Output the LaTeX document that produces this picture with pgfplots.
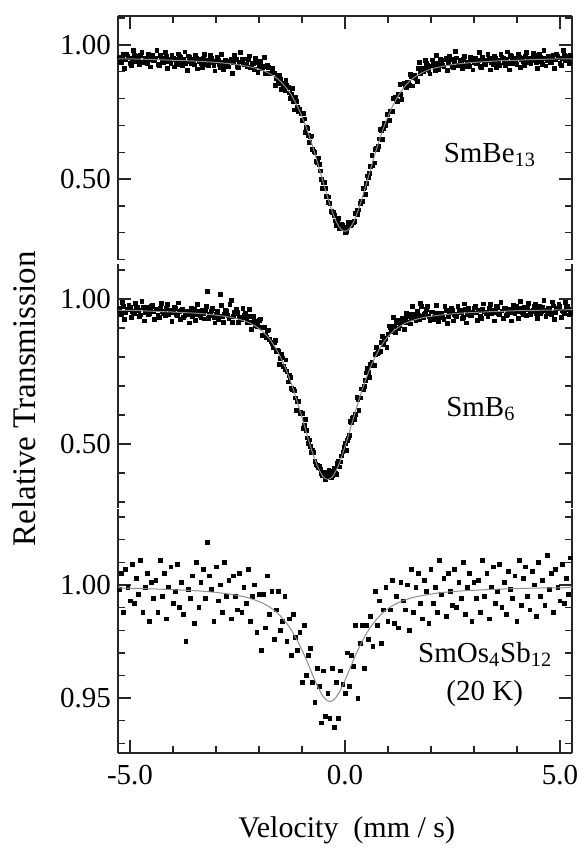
\documentclass[border=0pt]{standalone}
\usepackage{fontspec}
\setmainfont{Liberation Serif}
\usepackage{pgfplots}
\pgfplotsset{compat=1.18}
\pgfplotsset{
  every non boxed x axis/.style={},
  every non boxed y axis/.style={},
  panel/.style={
    scale only axis, width=227pt, height=122pt,
    xmin=-5.28, xmax=5.28,
    axis y line=box,
    clip mode=individual,
    axis line style={black!85, line width=0.7pt, -},
    every tick/.style={black!85, line width=0.7pt},
    tick align=inside,
    major tick length=6.5pt, minor tick length=3.5pt,
    xtick={-5,0,5}, minor xtick={-4,-3,-2,-1,1,2,3,4},
    yticklabel pos=left,
    tick label style={font=\fontsize{14.5}{16}\selectfont, black},
  },
  data/.style={only marks, mark=square*, mark size=0.95pt, black},
  fitl/.style={no marks, black!45, line width=0.5pt},
}
\begin{document}
\begin{tikzpicture}
\useasboundingbox (-59pt,8pt) rectangle (232pt,-416pt);
% ---------------- top panel: SmBe13
\begin{axis}[panel, at={(0pt,0pt)}, anchor=north west,
  axis x line=top, xticklabels={},
  ymin=0.198, ymax=1.108,
  ytick={0.5,1.0}, yticklabels={0.50,1.00},
  minor ytick={0.2,0.3,0.4,0.6,0.7,0.8,0.9,1.1}]
\addplot[data] coordinates {
(-5.25,0.953) (-5.20,0.935) (-5.15,0.964) (-5.10,0.944) (-5.05,0.957) (-5.00,0.932) (-4.95,0.950) (-4.90,0.961) (-4.85,0.940) (-4.80,0.945)
(-4.75,0.961) (-4.70,0.936) (-4.65,0.951) (-4.60,0.932) (-4.55,0.957) (-4.50,0.946) (-4.45,0.941) (-4.40,0.952) (-4.35,0.927) (-4.30,0.961)
(-4.25,0.935) (-4.20,0.949) (-4.15,0.957) (-4.10,0.940) (-4.05,0.930) (-4.00,0.952) (-3.95,0.945) (-3.90,0.927) (-3.85,0.956) (-3.80,0.937)
(-3.75,0.946) (-3.70,0.930) (-3.65,0.959) (-3.60,0.939) (-3.55,0.947) (-3.50,0.926) (-3.45,0.951) (-3.40,0.939) (-3.35,0.932) (-3.30,0.951)
(-3.25,0.929) (-3.20,0.942) (-3.15,0.933) (-3.10,0.952) (-3.05,0.923) (-3.00,0.937) (-2.95,0.943) (-2.90,0.916) (-2.85,0.937) (-2.80,0.927)
(-2.75,0.936) (-2.70,0.918) (-2.65,0.946) (-2.60,0.935) (-2.55,0.946) (-2.50,0.920) (-2.45,0.937) (-2.40,0.947) (-2.35,0.926) (-2.30,0.929)
(-2.25,0.944) (-2.20,0.917) (-2.15,0.930) (-2.10,0.910) (-2.05,0.933) (-2.00,0.920) (-1.95,0.912) (-1.90,0.921) (-1.85,0.893) (-1.80,0.923)
(-1.75,0.894) (-1.70,0.904) (-1.65,0.896) (-1.60,0.874) (-1.55,0.858) (-1.50,0.873) (-1.45,0.857) (-1.40,0.831) (-1.35,0.851) (-1.30,0.821)
(-1.25,0.817) (-1.20,0.789) (-1.15,0.803) (-1.10,0.767) (-1.05,0.759) (-1.00,0.719) (-0.95,0.724) (-0.90,0.692) (-0.85,0.662) (-0.80,0.658)
(-0.75,0.611) (-0.70,0.599) (-0.65,0.563) (-0.60,0.556) (-0.55,0.499) (-0.50,0.486) (-0.45,0.465) (-0.40,0.412) (-0.35,0.408) (-0.30,0.375)
(-0.25,0.364) (-0.20,0.327) (-0.15,0.353) (-0.10,0.322) (-0.05,0.328) (0.00,0.301) (0.05,0.321) (0.10,0.339) (0.15,0.330) (0.20,0.338)
(0.25,0.373) (0.30,0.369) (0.35,0.408) (0.40,0.416) (0.45,0.467) (0.50,0.484) (0.55,0.507) (0.60,0.547) (0.65,0.549) (0.70,0.610)
(0.75,0.611) (0.80,0.650) (0.85,0.682) (0.90,0.688) (0.95,0.700) (1.00,0.742) (1.05,0.754) (1.10,0.753) (1.15,0.799) (1.20,0.795)
(1.25,0.817) (1.30,0.815) (1.35,0.855) (1.40,0.845) (1.45,0.862) (1.50,0.850) (1.55,0.882) (1.60,0.878) (1.65,0.876) (1.70,0.912)
(1.75,0.894) (1.80,0.912) (1.85,0.907) (1.90,0.930) (1.95,0.904) (2.00,0.922) (2.05,0.931) (2.10,0.906) (2.15,0.930) (2.20,0.923)
(2.25,0.935) (2.30,0.918) (2.35,0.949) (2.40,0.930) (2.45,0.944) (2.50,0.920) (2.55,0.939) (2.60,0.952) (2.65,0.923) (2.70,0.929)
(2.75,0.945) (2.80,0.921) (2.85,0.937) (2.90,0.920) (2.95,0.945) (3.00,0.935) (3.05,0.931) (3.10,0.943) (3.15,0.919) (3.20,0.953)
(3.25,0.929) (3.30,0.943) (3.35,0.952) (3.40,0.935) (3.45,0.927) (3.50,0.949) (3.55,0.942) (3.60,0.925) (3.65,0.955) (3.70,0.936)
(3.75,0.946) (3.80,0.931) (3.85,0.960) (3.90,0.941) (3.95,0.950) (4.00,0.929) (4.05,0.954) (4.10,0.944) (4.15,0.937) (4.20,0.957)
(4.25,0.935) (4.30,0.950) (4.35,0.941) (4.40,0.961) (4.45,0.933) (4.50,0.948) (4.55,0.955) (4.60,0.928) (4.65,0.951) (4.70,0.942)
(4.75,0.952) (4.80,0.934) (4.85,0.963) (4.90,0.944) (4.95,0.957) (5.00,0.932) (5.05,0.950) (5.10,0.961) (5.15,0.941) (5.20,0.946) (5.25,0.962)
};
\addplot[data] coordinates {
(-5.225,0.937) (-5.175,0.955) (-5.125,0.913) (-5.075,0.966) (-5.025,0.952) (-4.975,0.923) (-4.925,0.980) (-4.875,0.940) (-4.825,0.958) (-4.775,0.929)
(-4.725,0.972) (-4.675,0.933) (-4.625,0.947) (-4.575,0.967) (-4.525,0.918) (-4.475,0.960) (-4.425,0.941) (-4.375,0.980) (-4.325,0.924) (-4.275,0.952)
(-4.225,0.933) (-4.175,0.972) (-4.125,0.912) (-4.075,0.947) (-4.025,0.961) (-3.975,0.918) (-3.925,0.936) (-3.875,0.967) (-3.825,0.953) (-3.775,0.924)
(-3.725,0.974) (-3.675,0.906) (-3.625,0.955) (-3.575,0.930) (-3.525,0.940) (-3.475,0.961) (-3.425,0.911) (-3.375,0.946) (-3.325,0.917) (-3.275,0.966)
(-3.225,0.933) (-3.175,0.923) (-3.125,0.961) (-3.075,0.940) (-3.025,0.903) (-2.975,0.953) (-2.925,0.927) (-2.875,0.966) (-2.825,0.908) (-2.775,0.943)
(-2.725,0.920) (-2.675,0.938) (-2.625,0.895) (-2.575,0.961) (-2.525,0.946) (-2.475,0.916) (-2.425,0.972) (-2.375,0.932) (-2.325,0.948) (-2.275,0.918)
(-2.225,0.959) (-2.175,0.918) (-2.125,0.930) (-2.075,0.949) (-2.025,0.898) (-1.975,0.938) (-1.925,0.917) (-1.875,0.953) (-1.825,0.893) (-1.775,0.917)
(-1.725,0.895) (-1.675,0.914) (-1.625,0.849) (-1.575,0.879) (-1.525,0.886) (-1.475,0.835) (-1.425,0.844) (-1.375,0.867) (-1.325,0.843) (-1.275,0.802)
(-1.225,0.839) (-1.175,0.758) (-1.125,0.791) (-1.075,0.750) (-1.025,0.743) (-0.975,0.744) (-0.925,0.675) (-0.875,0.688) (-0.825,0.636) (-0.775,0.661)
(-0.725,0.603) (-0.675,0.567) (-0.625,0.579) (-0.575,0.530) (-0.525,0.466) (-0.475,0.488) (-0.425,0.436) (-0.375,0.433) (-0.325,0.380) (-0.275,0.375)
(-0.225,0.344) (-0.175,0.336) (-0.125,0.314) (-0.075,0.332) (-0.025,0.320) (0.025,0.306) (0.075,0.339) (0.125,0.328) (0.175,0.338) (0.225,0.341)
(0.275,0.382) (0.325,0.385) (0.375,0.417) (0.425,0.464) (0.475,0.442) (0.525,0.512) (0.575,0.522) (0.625,0.589) (0.675,0.560) (0.725,0.614)
(0.775,0.622) (0.825,0.685) (0.875,0.649) (0.925,0.707) (0.975,0.741) (1.025,0.718) (1.075,0.754) (1.125,0.802) (1.175,0.804) (1.225,0.789)
(1.275,0.852) (1.325,0.797) (1.375,0.856) (1.425,0.840) (1.475,0.860) (1.525,0.889) (1.575,0.847) (1.625,0.888) (1.675,0.865) (1.725,0.934)
(1.775,0.906) (1.825,0.900) (1.875,0.943) (1.925,0.925) (1.975,0.892) (2.025,0.944) (2.075,0.921) (2.125,0.962) (2.175,0.907) (2.225,0.945)
(2.275,0.925) (2.325,0.944) (2.375,0.904) (2.425,0.958) (2.475,0.945) (2.525,0.917) (2.575,0.975) (2.625,0.923) (2.675,0.942) (2.725,0.913)
(2.775,0.957) (2.825,0.919) (2.875,0.934) (2.925,0.955) (2.975,0.907) (3.025,0.949) (3.075,0.932) (3.125,0.971) (3.175,0.916) (3.225,0.944)
(3.275,0.927) (3.325,0.966) (3.375,0.907) (3.425,0.943) (3.475,0.958) (3.525,0.915) (3.575,0.934) (3.625,0.966) (3.675,0.952) (3.725,0.924)
(3.775,0.974) (3.825,0.907) (3.875,0.956) (3.925,0.932) (3.975,0.943) (4.025,0.964) (4.075,0.915) (4.125,0.951) (4.175,0.923) (4.225,0.972)
(4.275,0.941) (4.325,0.931) (4.375,0.970) (4.425,0.949) (4.475,0.914) (4.525,0.964) (4.575,0.939) (4.625,0.979) (4.675,0.922) (4.725,0.958)
(4.775,0.936) (4.825,0.954) (4.875,0.912) (4.925,0.966) (4.975,0.952) (5.025,0.923) (5.075,0.980) (5.125,0.941) (5.175,0.959) (5.225,0.930)
};
\addplot[fitl, smooth] coordinates {
(-5.28,0.948) (-5.0,0.948) (-4.5,0.946) (-4.0,0.943) (-3.5,0.940) (-3.0,0.935) (-2.8,0.932) (-2.6,0.929) (-2.4,0.924) (-2.2,0.918) (-2.0,0.910) (-1.8,0.897) (-1.6,0.878) (-1.5,0.864) (-1.4,0.847) (-1.3,0.826) (-1.2,0.800) (-1.1,0.769) (-1.0,0.733) (-0.9,0.692) (-0.8,0.645) (-0.7,0.594) (-0.6,0.540) (-0.5,0.484) (-0.4,0.430) (-0.3,0.380) (-0.2,0.340) (-0.1,0.314) (0,0.305) (0.1,0.314) (0.2,0.340) (0.3,0.380) (0.4,0.430) (0.5,0.484) (0.6,0.540) (0.7,0.594) (0.8,0.645) (0.9,0.692) (1.0,0.733) (1.1,0.769) (1.2,0.800) (1.3,0.826) (1.4,0.847) (1.5,0.864) (1.6,0.878) (1.8,0.897) (2.0,0.910) (2.2,0.918) (2.4,0.924) (2.6,0.929) (2.8,0.932) (3.0,0.935) (3.5,0.940) (4.0,0.943) (4.5,0.946) (5.0,0.948) (5.28,0.948)
};
\node[font=\fontsize{14.5}{17}\selectfont] at (axis cs:3.37,0.59) {SmBe\textsubscript{13}};
\end{axis}
% ---------------- middle panel: SmB6
\begin{axis}[panel, at={(0pt,-123.75pt)}, anchor=north west,
  axis x line=none, xtick=\empty, minor xtick={},
  ymin=0.281, ymax=1.122,
  ytick={0.5,1.0}, yticklabels={0.50,1.00},
  minor ytick={0.3,0.4,0.6,0.7,0.8,0.9,1.1}]
\addplot[data] coordinates {
(-5.25,0.967) (-5.20,0.945) (-5.15,0.974) (-5.10,0.952) (-5.05,0.965) (-5.00,0.971) (-4.95,0.957) (-4.90,0.949) (-4.85,0.968) (-4.80,0.961)
(-4.75,0.945) (-4.70,0.972) (-4.65,0.954) (-4.60,0.961) (-4.55,0.948) (-4.50,0.974) (-4.45,0.955) (-4.40,0.963) (-4.35,0.944) (-4.30,0.966)
(-4.25,0.956) (-4.20,0.950) (-4.15,0.966) (-4.10,0.947) (-4.05,0.960) (-4.00,0.952) (-3.95,0.968) (-3.90,0.943) (-3.85,0.956) (-3.80,0.961)
(-3.75,0.937) (-3.70,0.955) (-3.65,0.947) (-3.60,0.957) (-3.55,0.940) (-3.50,0.965) (-3.45,0.947) (-3.40,0.958) (-3.35,0.935) (-3.30,0.951)
(-3.25,0.959) (-3.20,1.025) (-3.15,0.944) (-3.10,0.959) (-3.05,0.935) (-3.00,0.947) (-2.95,0.930) (-2.90,1.015) (-2.85,0.941) (-2.80,0.947)
(-2.75,0.957) (-2.70,0.934) (-2.65,0.995) (-2.60,0.939) (-2.55,0.950) (-2.50,0.954) (-2.45,0.938) (-2.40,0.928) (-2.35,0.945) (-2.30,0.936)
(-2.25,0.917) (-2.20,0.941) (-2.15,0.919) (-2.10,0.923) (-2.05,0.905) (-2.00,0.926) (-1.95,0.901) (-1.90,0.903) (-1.85,0.876) (-1.80,0.892)
(-1.75,0.860) (-1.70,0.845) (-1.65,0.850) (-1.60,0.819) (-1.55,0.818) (-1.50,0.796) (-1.45,0.797) (-1.40,0.756) (-1.35,0.750) (-1.30,0.737)
(-1.25,0.692) (-1.20,0.690) (-1.15,0.659) (-1.10,0.645) (-1.05,0.605) (-1.00,0.605) (-0.95,0.563) (-0.90,0.548) (-0.85,0.501) (-0.80,0.493)
(-0.75,0.479) (-0.70,0.440) (-0.65,0.425) (-0.60,0.423) (-0.55,0.399) (-0.50,0.401) (-0.45,0.379) (-0.40,0.400) (-0.35,0.392) (-0.30,0.393)
(-0.25,0.415) (-0.20,0.394) (-0.15,0.441) (-0.10,0.438) (-0.05,0.473) (0.00,0.502) (0.05,0.512) (0.10,0.529) (0.15,0.574) (0.20,0.593)
(0.25,0.602) (0.30,0.653) (0.35,0.659) (0.40,0.690) (0.45,0.698) (0.50,0.745) (0.55,0.746) (0.60,0.773) (0.65,0.770) (0.70,0.809)
(0.75,0.813) (0.80,0.821) (0.85,0.850) (0.90,0.843) (0.95,0.865) (1.00,0.879) (1.05,0.903) (1.10,0.886) (1.15,0.905) (1.20,0.918)
(1.25,0.899) (1.30,0.923) (1.35,0.919) (1.40,0.933) (1.45,0.920) (1.50,0.948) (1.55,0.934) (1.60,0.947) (1.65,0.927) (1.70,0.945)
(1.75,0.985) (1.80,0.941) (1.85,0.946) (1.90,0.963) (1.95,0.941) (2.00,0.955) (2.05,0.928) (2.10,0.952) (2.15,0.943) (2.20,0.939)
(2.25,0.951) (2.30,0.930) (2.35,0.960) (2.40,0.939) (2.45,0.953) (2.50,0.960) (2.55,0.946) (2.60,0.939) (2.65,0.958) (2.70,0.953)
(2.75,0.937) (2.80,0.965) (2.85,0.947) (2.90,0.955) (2.95,0.943) (3.00,0.969) (3.05,0.952) (3.10,0.960) (3.15,0.941) (3.20,0.965)
(3.25,0.955) (3.30,0.949) (3.35,0.966) (3.40,0.948) (3.45,0.961) (3.50,0.953) (3.55,0.971) (3.60,0.946) (3.65,0.959) (3.70,0.966)
(3.75,0.942) (3.80,0.961) (3.85,0.954) (3.90,0.964) (3.95,0.948) (4.00,0.973) (4.05,0.957) (4.10,0.968) (4.15,0.946) (4.20,0.962)
(4.25,0.971) (4.30,0.954) (4.35,0.958) (4.40,0.974) (4.45,0.951) (4.50,0.964) (4.55,0.948) (4.60,0.971) (4.65,0.961) (4.70,0.956)
(4.75,0.968) (4.80,0.946) (4.85,0.976) (4.90,0.954) (4.95,0.967) (5.00,0.973) (5.05,0.959) (5.10,0.951) (5.15,0.971) (5.20,0.965) (5.25,0.949)
};
\addplot[data] coordinates {
(-5.225,0.950) (-5.175,0.988) (-5.125,0.928) (-5.075,0.964) (-5.025,0.978) (-4.975,0.935) (-4.925,0.953) (-4.875,0.985) (-4.825,0.970) (-4.775,0.941)
(-4.725,0.991) (-4.675,0.924) (-4.625,0.972) (-4.575,0.947) (-4.525,0.958) (-4.475,0.979) (-4.425,0.929) (-4.375,0.964) (-4.325,0.935) (-4.275,0.984)
(-4.225,0.952) (-4.175,0.942) (-4.125,0.980) (-4.075,0.959) (-4.025,0.923) (-3.975,0.972) (-3.925,0.947) (-3.875,0.986) (-3.825,0.928) (-3.775,0.964)
(-3.725,0.942) (-3.675,0.959) (-3.625,0.917) (-3.575,0.969) (-3.525,0.955) (-3.475,0.926) (-3.425,0.982) (-3.375,0.943) (-3.325,0.960) (-3.275,0.931)
(-3.225,0.973) (-3.175,0.933) (-3.125,0.946) (-3.075,0.967) (-3.025,0.917) (-2.975,0.958) (-2.925,0.939) (-2.875,0.977) (-2.825,0.920) (-2.775,0.962)
(-2.725,0.943) (-2.675,0.980) (-2.625,0.919) (-2.575,0.953) (-2.525,0.965) (-2.475,0.920) (-2.425,0.936) (-2.375,0.966) (-2.325,0.950) (-2.275,0.918)
(-2.225,0.965) (-2.175,0.894) (-2.125,0.939) (-2.075,0.910) (-2.025,0.916) (-1.975,0.931) (-1.925,0.875) (-1.875,0.903) (-1.825,0.868) (-1.775,0.893)
(-1.725,0.852) (-1.675,0.831) (-1.625,0.858) (-1.575,0.824) (-1.525,0.774) (-1.475,0.809) (-1.425,0.768) (-1.375,0.790) (-1.325,0.714) (-1.275,0.730)
(-1.225,0.687) (-1.175,0.683) (-1.125,0.617) (-1.075,0.646) (-1.025,0.608) (-0.975,0.554) (-0.925,0.585) (-0.875,0.521) (-0.825,0.514) (-0.775,0.471)
(-0.725,0.470) (-0.675,0.430) (-0.625,0.419) (-0.575,0.414) (-0.525,0.390) (-0.475,0.402) (-0.425,0.389) (-0.375,0.409) (-0.325,0.385) (-0.275,0.407)
(-0.225,0.398) (-0.175,0.433) (-0.125,0.421) (-0.075,0.459) (-0.025,0.489) (0.025,0.478) (0.075,0.521) (0.125,0.578) (0.175,0.590) (0.225,0.586)
(0.275,0.660) (0.325,0.617) (0.375,0.690) (0.425,0.687) (0.475,0.719) (0.525,0.760) (0.575,0.730) (0.625,0.782) (0.675,0.770) (0.725,0.834)
(0.775,0.816) (0.825,0.819) (0.875,0.870) (0.925,0.860) (0.975,0.833) (1.025,0.907) (1.075,0.889) (1.125,0.935) (1.175,0.885) (1.225,0.927)
(1.275,0.910) (1.325,0.932) (1.375,0.894) (1.425,0.951) (1.475,0.940) (1.525,0.914) (1.575,0.973) (1.625,0.936) (1.675,0.956) (1.725,0.929)
(1.775,0.974) (1.825,0.937) (1.875,0.952) (1.925,0.975) (1.975,0.927) (2.025,0.955) (2.075,0.938) (2.125,0.978) (2.175,0.923) (2.225,0.952)
(2.275,0.935) (2.325,0.974) (2.375,0.915) (2.425,0.952) (2.475,0.967) (2.525,0.924) (2.575,0.943) (2.625,0.975) (2.675,0.962) (2.725,0.933)
(2.775,0.983) (2.825,0.917) (2.875,0.966) (2.925,0.942) (2.975,0.953) (3.025,0.974) (3.075,0.926) (3.125,0.961) (3.175,0.933) (3.225,0.983)
(3.275,0.951) (3.325,0.941) (3.375,0.981) (3.425,0.960) (3.475,0.924) (3.525,0.974) (3.575,0.950) (3.625,0.989) (3.675,0.932) (3.725,0.969)
(3.775,0.947) (3.825,0.965) (3.875,0.924) (3.925,0.977) (3.975,0.963) (4.025,0.934) (4.075,0.992) (4.125,0.953) (4.175,0.971) (4.225,0.942)
(4.275,0.985) (4.325,0.946) (4.375,0.960) (4.425,0.982) (4.475,0.933) (4.525,0.975) (4.575,0.957) (4.625,0.996) (4.675,0.940) (4.725,0.969)
(4.775,0.951) (4.825,0.990) (4.875,0.930) (4.925,0.966) (4.975,0.980) (5.025,0.937) (5.075,0.955) (5.125,0.988) (5.175,0.974) (5.225,0.945)
};
\addplot[fitl, smooth] coordinates {
(-5.28,0.961) (-4.9,0.960) (-4.4,0.957) (-3.9,0.954) (-3.4,0.950) (-3.2,0.947) (-3.0,0.944) (-2.8,0.940) (-2.6,0.935) (-2.4,0.927) (-2.2,0.916) (-2.0,0.898) (-1.9,0.885) (-1.8,0.870) (-1.7,0.851) (-1.6,0.827) (-1.5,0.799) (-1.4,0.767) (-1.3,0.729) (-1.2,0.687) (-1.1,0.640) (-1.0,0.591) (-0.9,0.540) (-0.8,0.491) (-0.7,0.446) (-0.6,0.410) (-0.5,0.386) (-0.4,0.378) (-0.3,0.386) (-0.2,0.410) (-0.1,0.446) (0,0.491) (0.1,0.540) (0.2,0.591) (0.3,0.640) (0.4,0.687) (0.5,0.729) (0.6,0.767) (0.7,0.799) (0.8,0.827) (0.9,0.851) (1.0,0.870) (1.1,0.885) (1.2,0.898) (1.4,0.916) (1.6,0.927) (1.8,0.935) (2.0,0.940) (2.2,0.944) (2.4,0.947) (2.6,0.950) (3.1,0.954) (3.6,0.957) (4.1,0.960) (4.6,0.961) (5.28,0.963)
};
\node[font=\fontsize{14.5}{17}\selectfont] at (axis cs:3.16,0.62) {SmB\textsubscript{6}};
\node[rotate=90, font=\fontsize{16.5}{18}\selectfont] at (rel axis cs:-0.207,0.445) {Relative Transmission};
\end{axis}
% ---------------- bottom panel: SmOs4Sb12
\begin{axis}[panel, at={(0pt,-246.5pt)}, anchor=north west,
  axis x line=bottom, xticklabels={-5.0,0.0,5.0},
  xticklabel style={yshift=-2.5pt},
  ymin=0.9257, ymax=1.0336,
  ytick={0.95,1.00}, yticklabels={0.95,1.00},
  minor ytick={0.93,0.94,0.96,0.97,0.98,0.99,1.01,1.02,1.03}]
\addplot[data] coordinates {
(-5.25,0.998) (-5.20,1.005) (-5.15,0.988) (-5.10,1.007) (-5.05,0.999) (-5.00,0.993) (-4.95,1.009) (-4.90,0.992) (-4.85,1.003) (-4.80,0.996)
(-4.75,1.011) (-4.70,0.988) (-4.65,0.999) (-4.60,1.005) (-4.55,0.984) (-4.50,1.001) (-4.45,0.994) (-4.40,1.002) (-4.35,0.988) (-4.30,1.011)
(-4.25,0.995) (-4.20,1.005) (-4.15,0.985) (-4.10,0.999) (-4.05,1.008) (-4.00,0.992) (-3.95,0.997) (-3.90,1.009) (-3.85,0.990) (-3.80,1.001)
(-3.75,0.987) (-3.70,0.975) (-3.65,0.998) (-3.60,0.994) (-3.55,1.004) (-3.50,0.983) (-3.45,1.010) (-3.40,0.990) (-3.35,1.001) (-3.30,1.007)
(-3.25,0.994) (-3.20,1.019) (-3.15,1.004) (-3.10,0.998) (-3.05,0.984) (-3.00,1.008) (-2.95,0.993) (-2.90,1.000) (-2.85,0.988) (-2.80,1.010)
(-2.75,0.995) (-2.70,1.002) (-2.65,0.985) (-2.60,1.004) (-2.55,0.995) (-2.50,0.989) (-2.45,1.005) (-2.40,0.988) (-2.35,0.999) (-2.30,0.992)
(-2.25,1.007) (-2.20,0.984) (-2.15,0.995) (-2.10,1.000) (-2.05,0.979) (-2.00,0.996) (-1.95,0.971) (-1.90,0.996) (-1.85,0.981) (-1.80,1.004)
(-1.75,0.987) (-1.70,0.997) (-1.65,0.976) (-1.60,0.989) (-1.55,0.997) (-1.50,0.980) (-1.45,0.984) (-1.40,0.995) (-1.35,0.975) (-1.30,0.985)
(-1.25,0.969) (-1.20,0.987) (-1.15,0.977) (-1.10,0.971) (-1.05,0.979) (-1.00,0.957) (-0.95,0.982) (-0.90,0.960) (-0.85,0.969) (-0.80,0.972)
(-0.75,0.957) (-0.70,0.948) (-0.65,0.963) (-0.60,0.955) (-0.55,0.939) (-0.50,0.962) (-0.45,0.942) (-0.40,0.952) (-0.35,0.941) (-0.30,0.963)
(-0.25,0.937) (-0.20,0.957) (-0.15,0.941) (-0.10,0.962) (-0.05,0.956) (0.00,0.952) (0.05,0.970) (0.10,0.955) (0.15,0.969) (0.20,0.964)
(0.25,0.982) (0.30,0.950) (0.35,0.974) (0.40,0.982) (0.45,0.963) (0.50,0.982) (0.55,0.976) (0.60,0.986) (0.65,0.973) (0.70,0.997)
(0.75,0.982) (0.80,0.993) (0.85,0.974) (0.90,0.989) (0.95,0.999) (1.00,0.984) (1.05,0.989) (1.10,1.002) (1.15,0.983) (1.20,0.995)
(1.25,0.981) (1.30,1.001) (1.35,0.993) (1.40,0.989) (1.45,1.000) (1.50,0.980) (1.55,1.007) (1.60,0.988) (1.65,0.999) (1.70,1.005)
(1.75,0.992) (1.80,0.985) (1.85,1.002) (1.90,0.997) (1.95,0.983) (2.00,1.007) (2.05,0.992) (2.10,0.999) (2.15,0.988) (2.20,1.011)
(2.25,0.996) (2.30,1.003) (2.35,0.986) (2.40,1.005) (2.45,0.997) (2.50,0.991) (2.55,1.007) (2.60,0.990) (2.65,1.001) (2.70,0.994)
(2.75,1.010) (2.80,0.987) (2.85,0.999) (2.90,1.005) (2.95,0.984) (3.00,1.001) (3.05,0.994) (3.10,1.002) (3.15,0.988) (3.20,1.011)
(3.25,0.995) (3.30,1.005) (3.35,0.985) (3.40,0.999) (3.45,1.008) (3.50,0.992) (3.55,0.997) (3.60,1.009) (3.65,0.990) (3.70,1.001)
(3.75,0.987) (3.80,1.006) (3.85,0.998) (3.90,0.994) (3.95,1.004) (4.00,0.984) (4.05,1.011) (4.10,0.991) (4.15,1.003) (4.20,1.008)
(4.25,0.995) (4.30,0.989) (4.35,1.006) (4.40,1.000) (4.45,0.986) (4.50,1.010) (4.55,0.995) (4.60,1.002) (4.65,0.991) (4.70,1.013)
(4.75,0.998) (4.80,1.005) (4.85,0.988) (4.90,1.007) (4.95,0.999) (5.00,0.993) (5.05,1.009) (5.10,0.992) (5.15,1.003) (5.20,0.996) (5.25,1.012)
};
\addplot[fitl, smooth] coordinates {
(-5.28,0.9987) (-4.85,0.9985) (-4.35,0.9982) (-3.85,0.9978) (-3.35,0.9973) (-2.85,0.9964) (-2.35,0.9948) (-2.15,0.9937) (-1.95,0.9923) (-1.75,0.9902) (-1.55,0.9872) (-1.35,0.9829) (-1.25,0.9801) (-1.15,0.9769) (-1.05,0.9732) (-0.95,0.9691) (-0.85,0.9647) (-0.75,0.9601) (-0.65,0.9557) (-0.55,0.9520) (-0.45,0.9494) (-0.35,0.9485) (-0.25,0.9494) (-0.15,0.9520) (-0.05,0.9557) (0.05,0.9601) (0.15,0.9647) (0.25,0.9691) (0.35,0.9732) (0.45,0.9769) (0.55,0.9801) (0.65,0.9829) (0.85,0.9872) (1.05,0.9902) (1.25,0.9923) (1.45,0.9937) (1.65,0.9948) (2.15,0.9964) (2.65,0.9973) (3.15,0.9978) (3.65,0.9982) (4.15,0.9985) (4.65,0.9987) (5.28,0.9988)
};
\node[font=\fontsize{14.5}{17}\selectfont] at (axis cs:3.26,0.9694) {SmOs\textsubscript{4}Sb\textsubscript{12}};
\node[font=\fontsize{14.5}{17}\selectfont] at (axis cs:3.25,0.9522) {(20 K)};
\node[font=\fontsize{15}{18}\selectfont] at (rel axis cs:0.504,-0.316) {Velocity\ \ (mm / s)};
\end{axis}
\end{tikzpicture}
\end{document}
